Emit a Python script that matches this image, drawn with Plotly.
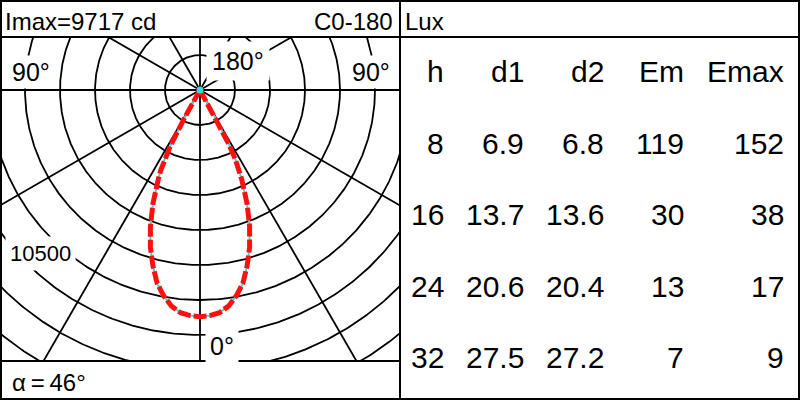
import numpy as np
import plotly.graph_objects as go

# ---------------- data ----------------
imax_cd = 9717
plane_label = "C0-180"
unit_label = "Lux"
beam_angle_deg = 46

gamma_deg = [0, 2.5, 5, 7.5, 10, 12.5, 15, 17.5, 20, 22.5, 25, 26, 27, 28, 29, 30, 35, 90]
intensity_c0 = [9717, 9677, 9579, 9343, 8957, 8486, 7800, 7071, 6214, 5271, 4243, 3857, 3343, 2657, 1371, 129, 0, 0]
intensity_c180 = [9717, 9677, 9579, 9343, 8957, 8486, 7800, 7071, 6214, 5271, 4243, 3857, 3343, 2657, 1371, 129, 0, 0]

ring_values_cd = [1500, 3000, 4500, 6000, 7500, 9000, 10500, 12000, 13500]
labelled_ring_index = 6
spoke_angles_deg = [0, 30, 60, 90, 120, 150, 180, 210, 240, 270, 300, 330]

col_headers = ["h", "d1", "d2", "Em", "Emax"]
heights_m = [8, 16, 24, 32]
d1_m = [6.9, 13.7, 20.6, 27.5]
d2_m = [6.8, 13.6, 20.4, 27.2]
em_lux = [119, 30, 13, 7]
emax_lux = [152, 38, 17, 9]

# ---------------- layout constants (pixels) ----------------
W, H = 800, 400
CX, CY = 200, 90          # pole of the diagram in pixels
PX_PER_RING = 35
K = ring_values_cd[0] / PX_PER_RING   # cd per pixel
PLOT_TOP, PLOT_BOT = 37, 361
FONT = "Liberation Sans, Arial, sans-serif"
RED = "#ff1010"
CYAN = "#3ed8d8"

def xp(px):
    return px / W

def yp(py):
    return 1 - py / H

fig = go.Figure()

# rings
t = np.linspace(0, 2 * np.pi, 721)
for rv in ring_values_cd:
    fig.add_trace(go.Scatter(x=rv * np.cos(t), y=rv * np.sin(t), mode="lines",
                             line=dict(color="black", width=1.8), hoverinfo="skip",
                             showlegend=False))
# spokes
r_far = ring_values_cd[-1] * 1.2
for a in spoke_angles_deg:
    ar = np.deg2rad(a)
    fig.add_trace(go.Scatter(x=[0, r_far * np.cos(ar)], y=[0, r_far * np.sin(ar)], mode="lines",
                             line=dict(color="black", width=1.8), hoverinfo="skip",
                             showlegend=False))

# light distribution curve (C180 on the left, C0 on the right)
g = np.deg2rad(np.array(gamma_deg))
i0 = np.array(intensity_c0, dtype=float)
i180 = np.array(intensity_c180, dtype=float)
xs = np.concatenate([-(i180 * np.sin(g))[::-1], (i0 * np.sin(g))[1:]])
ys = np.concatenate([-(i180 * np.cos(g))[::-1], -(i0 * np.cos(g))[1:]])
fig.add_trace(go.Scatter(x=xs, y=ys, mode="lines", line=dict(color=CYAN, width=2),
                         hoverinfo="skip", showlegend=False))
fig.add_trace(go.Scatter(x=xs, y=ys, mode="lines",
                         line=dict(color=RED, width=5, dash="13px,3px"),
                         hoverinfo="skip", showlegend=False))
fig.add_trace(go.Scatter(x=[0], y=[0], mode="markers",
                         marker=dict(color=CYAN, size=7), hoverinfo="skip", showlegend=False))

x_rng = [(0 - CX) * K, (400 - CX) * K]
y_rng = [(CY - PLOT_BOT) * K, (CY - PLOT_TOP) * K]

fig.update_layout(
    width=W, height=H, margin=dict(l=0, r=0, t=0, b=0),
    paper_bgcolor="white", plot_bgcolor="white",
    xaxis=dict(domain=[0, 0.5], range=x_rng, visible=False, fixedrange=True),
    yaxis=dict(domain=[1 - PLOT_BOT / H, 1 - PLOT_TOP / H], range=y_rng, visible=False,
               fixedrange=True),
    showlegend=False,
)

# frame lines
lw = 2
shapes = [
    dict(type="rect", xref="paper", yref="paper", x0=xp(1), x1=xp(799), y0=yp(399), y1=yp(1),
         line=dict(color="black", width=lw)),
    dict(type="line", xref="paper", yref="paper", x0=xp(400), x1=xp(400), y0=0, y1=1,
         line=dict(color="black", width=lw)),
    dict(type="line", xref="paper", yref="paper", x0=0, x1=1, y0=yp(PLOT_TOP), y1=yp(PLOT_TOP),
         line=dict(color="black", width=lw)),
    dict(type="line", xref="paper", yref="paper", x0=0, x1=0.5, y0=yp(PLOT_BOT), y1=yp(PLOT_BOT),
         line=dict(color="black", width=lw)),
]
fig.update_layout(shapes=shapes)

ann = []

def txt(text, px, py, xanchor, size, bg=None, pad=1):
    d = dict(text=text, x=xp(px), y=yp(py), xref="paper", yref="paper",
             xanchor=xanchor, yanchor="middle", showarrow=False,
             font=dict(family=FONT, size=size, color="black"), borderpad=pad)
    if bg:
        d["bgcolor"] = bg
    ann.append(d)

# header / footer
txt(f"Imax={imax_cd} cd", 3, 21.5, "left", 24)
txt(plane_label, 395, 21.5, "right", 24)
txt(unit_label, 403, 21.5, "left", 24)
txt(f"α\u2009=\u2009{beam_angle_deg}°", 10, 382.5, "left", 24)

# angle labels and ring label (with white background masking the grid)
txt("90°", 9, 72, "left", 25, bg="white", pad=2)
txt("90°", 393, 72, "right", 25, bg="white", pad=2)
txt("180°", 206, 61, "left", 25, bg="white", pad=5)
txt("0°", 205, 346, "left", 25, bg="white", pad=4)
txt(f"{ring_values_cd[labelled_ring_index]}", 40, 253.5, "center", 22, bg="white", pad=4)

# table
col_right_px = [446, 526, 606, 686, 786]
row0_py = 71.5
row_step = 71.6
for c, hname in enumerate(col_headers):
    txt(hname, col_right_px[c], row0_py, "right", 30)
rows = list(zip(heights_m, d1_m, d2_m, em_lux, emax_lux))
for r, (h, a, b, em, emx) in enumerate(rows):
    vals = [str(h), f"{a:.1f}", f"{b:.1f}", str(em), str(emx)]
    for c, v in enumerate(vals):
        txt(v, col_right_px[c], row0_py + row_step * (r + 1), "right", 30)

fig.update_layout(annotations=ann)
fig.write_html("out.html", config={"displayModeBar": False},
               post_script="document.body.style.margin='0';document.body.style.padding='0';")
